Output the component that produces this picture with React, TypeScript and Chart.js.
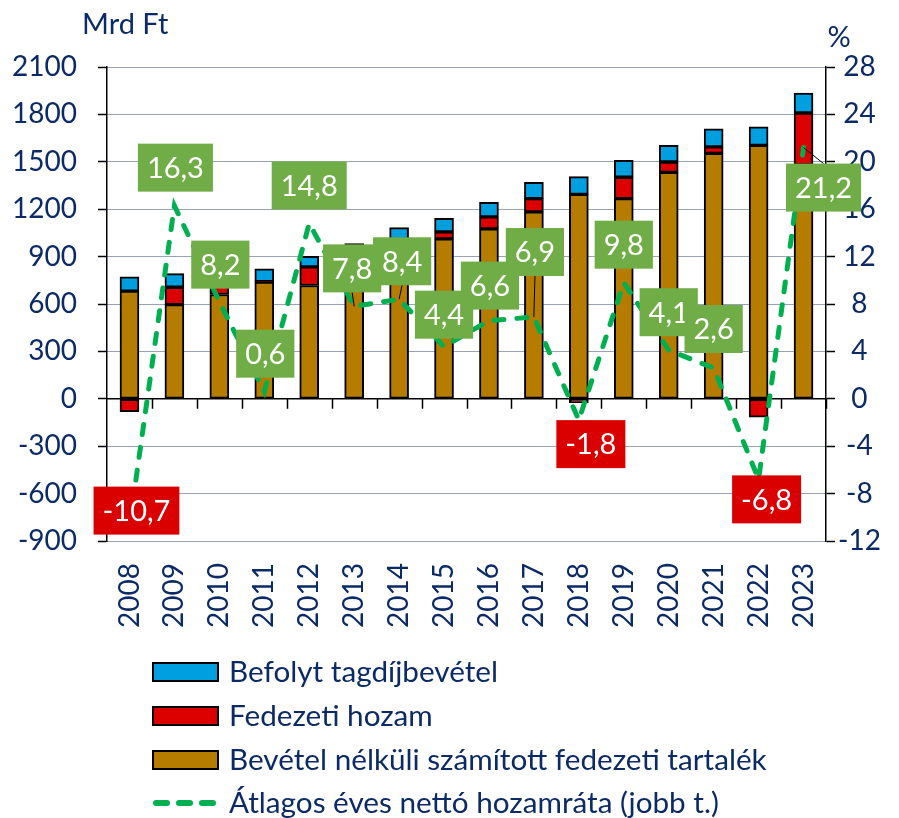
import React, { useEffect, useRef } from "react";
import { Chart, registerables } from "chart.js";

Chart.register(...registerables);

// ---------- data ----------
const years = ["2008", "2009", "2010", "2011", "2012", "2013", "2014", "2015", "2016", "2017", "2018", "2019", "2020", "2021", "2022", "2023"];
const reserveNoIncome = [681, 596, 660, 738, 717, 842, 936, 1012, 1075, 1183, 1294, 1267, 1433, 1553, 1604, 1480];
const coverageYield = [-82, 110, 55, 4, 118, 65, 72, 44, 76, 84, -25, 135, 66, 41, -116, 329];
const contributions = [91, 86, 80, 80, 67, 75, 75, 86, 92, 103, 112, 107, 105, 114, 118, 126];
const netReturn = [-10.7, 16.3, 8.2, 0.6, 14.8, 7.8, 8.4, 4.4, 6.6, 6.9, -1.8, 9.8, 4.1, 2.6, -6.8, 21.2];
const leftTicks = [-900, -600, -300, 0, 300, 600, 900, 1200, 1500, 1800, 2100];
const rightTicks = [-12, -8, -4, 0, 4, 8, 12, 16, 20, 24, 28];

const seriesNames = [
  "Befolyt tagdíjbevétel",
  "Fedezeti hozam",
  "Bevétel nélküli számított fedezeti tartalék",
  "Átlagos éves nettó hozamráta (jobb t.)",
];
const leftTitle = "Mrd Ft";
const rightTitle = "%";

// ---------- layout / style ----------
const labelOffsets: [number, number][] = [
  [7, -15], [1, -38], [1, -37], [1, -38], [0, -38], [-2, -38], [3, -38], [0, -32],
  [1, -35], [1, -65], [12, 24], [0, -38], [0, -38], [0, -39], [8, 20], [20, 40],
];
const leaderLines = [false, false, false, false, false, true, true, false, false, true, false, false, false, false, false, true];

const FONT = "Lato, 'Open Sans', 'DejaVu Sans', sans-serif";
const NAVY = "#0B2A66";
const BLUE = "#009FE0";
const RED = "#DD0000";
const BROWN = "#B57C00";
const GREEN_LINE = "#00B050";
const GREEN_BOX = "#70AD47";
const RED_BOX = "#DA0000";

const fmt = (v: number) => v.toFixed(1).replace(".", ",");

const decorPlugin = {
  id: "decor",
  beforeDatasetsDraw(chart: any) {
    const { ctx, chartArea } = chart;
    const y = chart.scales.y.getPixelForValue(0);
    ctx.save();
    ctx.strokeStyle = "#000";
    ctx.lineWidth = 1.5;
    ctx.beginPath();
    ctx.moveTo(chartArea.left, y);
    ctx.lineTo(chartArea.right, y);
    const n = years.length;
    const w = (chartArea.right - chartArea.left) / n;
    for (let k = 1; k <= n; k++) {
      const x = Math.round(chartArea.left + k * w) + 0.5;
      ctx.moveTo(x, y);
      ctx.lineTo(x, y + 10);
    }
    ctx.stroke();
    ctx.restore();
  },
  afterDatasetsDraw(chart: any) {
    const { ctx } = chart;
    const meta = chart.getDatasetMeta(0);
    ctx.save();
    ctx.font = `29px ${FONT}`;
    meta.data.forEach((pt: any, i: number) => {
      const v = netReturn[i];
      const txt = fmt(v);
      const tw = ctx.measureText(txt).width;
      const bw = tw + 18;
      const bh = 48;
      const cx = pt.x + labelOffsets[i][0];
      const cy = pt.y + labelOffsets[i][1];
      const l = cx - bw / 2;
      const t = cy - bh / 2;
      if (leaderLines[i]) {
        const ey = pt.y > t + bh ? t + bh : t;
        ctx.strokeStyle = "#000";
        ctx.lineWidth = 1;
        ctx.beginPath();
        ctx.moveTo(pt.x, pt.y);
        ctx.lineTo(cx, ey);
        ctx.stroke();
      }
      ctx.fillStyle = v < 0 ? RED_BOX : GREEN_BOX;
      ctx.fillRect(l, t, bw, bh);
      ctx.fillStyle = "#fff";
      ctx.textAlign = "center";
      ctx.textBaseline = "middle";
      ctx.fillText(txt, cx, cy + 1);
    });
    ctx.restore();
  },
  afterDraw(chart: any) {
    const { ctx } = chart;
    ctx.save();
    ctx.fillStyle = NAVY;
    ctx.textBaseline = "middle";
    ctx.font = `29px ${FONT}`;
    ctx.textAlign = "left";
    ctx.fillText(leftTitle, 82, 25);
    ctx.textAlign = "center";
    ctx.fillText(rightTitle, 839, 38);

    // legend
    const colors = [BLUE, RED, BROWN];
    const rows = [672, 716, 760, 803];
    ctx.font = `29.7px ${FONT}`;
    ctx.textAlign = "left";
    for (let i = 0; i < 4; i++) {
      const cy = rows[i];
      if (i < 3) {
        ctx.fillStyle = colors[i];
        ctx.fillRect(153, cy - 9, 65, 18);
        ctx.strokeStyle = "#000";
        ctx.lineWidth = 2;
        ctx.strokeRect(153, cy - 9, 65, 18);
      } else {
        ctx.strokeStyle = GREEN_LINE;
        ctx.lineWidth = 6;
        ctx.lineCap = "round";
        ctx.setLineDash([11, 12]);
        ctx.beginPath();
        ctx.moveTo(156, cy);
        ctx.lineTo(216, cy);
        ctx.stroke();
        ctx.setLineDash([]);
      }
      ctx.fillStyle = NAVY;
      ctx.fillText(seriesNames[i], 229, cy);
    }
    ctx.restore();
  },
};

export default function App() {
  const ref = useRef<HTMLCanvasElement | null>(null);
  useEffect(() => {
    document.body.style.margin = "0";
    const canvas = ref.current;
    if (!canvas) return;
    const chart = new Chart(canvas, {
      type: "bar",
      data: {
        labels: years,
        datasets: [
          {
            type: "line",
            label: seriesNames[3],
            data: netReturn,
            yAxisID: "y1",
            borderColor: GREEN_LINE,
            borderWidth: 5,
            borderDash: [10, 13],
            borderCapStyle: "round",
            pointRadius: 0,
            tension: 0,
            fill: false,
            order: 0,
          } as any,
          {
            label: seriesNames[2],
            data: reserveNoIncome,
            backgroundColor: BROWN,
            borderColor: "#000",
            borderWidth: 2,
            borderSkipped: false,
            barThickness: 19,
            yAxisID: "y",
            order: 1,
          },
          {
            label: seriesNames[1],
            data: coverageYield,
            backgroundColor: RED,
            borderColor: "#000",
            borderWidth: 2,
            borderSkipped: false,
            barThickness: 19,
            yAxisID: "y",
            order: 1,
          },
          {
            label: seriesNames[0],
            data: contributions,
            backgroundColor: BLUE,
            borderColor: "#000",
            borderWidth: 2,
            borderSkipped: false,
            barThickness: 19,
            yAxisID: "y",
            order: 1,
          },
        ],
      },
      options: {
        responsive: false,
        animation: false,
        devicePixelRatio: 1,
        layout: { padding: { top: 67, left: 0, right: 0, bottom: 0 } },
        plugins: { legend: { display: false }, tooltip: { enabled: false } },
        scales: {
          x: {
            stacked: true,
            offset: true,
            grid: { display: false, drawTicks: false },
            border: { display: false },
            ticks: {
              minRotation: 90,
              maxRotation: 90,
              autoSkip: false,
              padding: 22,
              color: NAVY,
              font: { family: FONT, size: 28 },
            },
            afterFit: (s: any) => {
              s.height = 277;
            },
          },
          y: {
            position: "left",
            stacked: true,
            min: leftTicks[0],
            max: leftTicks[leftTicks.length - 1],
            afterBuildTicks: (s: any) => {
              s.ticks = leftTicks.map((v) => ({ value: v }));
            },
            ticks: {
              padding: 21,
              color: NAVY,
              font: { family: FONT, size: 28 },
              callback: (v: any) => String(v),
            },
            grid: {
              color: (c: any) => (c.tick && c.tick.value === 0 ? "rgba(0,0,0,0)" : "#34456A"),
              lineWidth: 1,
              tickLength: 9,
              tickColor: "#000",
              tickWidth: 1.5,
              tickBorderDash: [],
            },
            border: { display: true, color: "#000", width: 1.5, dash: [1, 1] },
            afterFit: (s: any) => {
              s.width = 107;
            },
          },
          y1: {
            position: "right",
            min: rightTicks[0],
            max: rightTicks[rightTicks.length - 1],
            afterBuildTicks: (s: any) => {
              s.ticks = rightTicks.map((v) => ({ value: v }));
            },
            ticks: {
              padding: 3,
              crossAlign: "center",
              color: NAVY,
              font: { family: FONT, size: 28 },
              callback: (v: any) => String(v),
            },
            grid: {
              drawOnChartArea: false,
              tickLength: 9,
              tickColor: "#000",
              tickWidth: 1.5,
            },
            border: { display: true, color: "#000", width: 1.5 },
            afterFit: (s: any) => {
              s.width = 73;
            },
          },
        },
      } as any,
      plugins: [decorPlugin],
    });
    return () => chart.destroy();
  }, []);
  return (
    <canvas
      ref={ref}
      width={899}
      height={818}
      style={{ display: "block", width: 899, height: 818 }}
    />
  );
}
